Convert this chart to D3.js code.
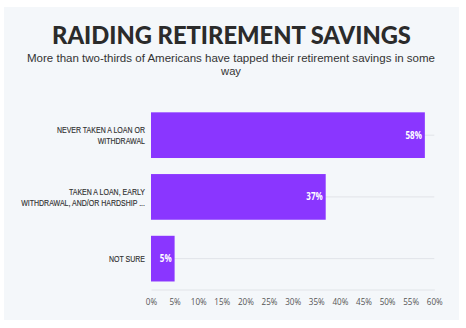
<!DOCTYPE html>
<html><head><meta charset="utf-8">
<script src="https://cdn.jsdelivr.net/npm/d3@7"></script>
<style>
html,body{margin:0;padding:0;background:#fff;}
svg{display:block;}
</style></head>
<body>
<script>
const categories = [
  ["NEVER TAKEN A LOAN OR", "WITHDRAWAL"],
  ["TAKEN A LOAN, EARLY", "WITHDRAWAL, AND/OR HARDSHIP ..."],
  ["NOT SURE"]
];
const values = [58, 37, 5];
const xTicks = [0,5,10,15,20,25,30,35,40,45,50,55,60];
const title = "RAIDING RETIREMENT SAVINGS";
const subtitle = ["More than two-thirds of Americans have tapped their retirement savings in some", "way"];

const W = 466, H = 328;
const svg = d3.select("body").append("svg").attr("width", W).attr("height", H);
svg.append("rect").attr("x",4).attr("y",7).attr("width",455).attr("height",313).attr("fill","#f4f7fa");

const sans = "'Open Sans','Noto Sans',sans-serif";
const tight = "'Liberation Sans',Arial,sans-serif";

function fit(sel, target){
  const w = sel.node().getComputedTextLength();
  const fs = parseFloat(sel.attr("font-size"));
  sel.attr("font-size", fs*target/w);
}
function condense(sel, k){
  sel.each(function(){
    const w = this.getComputedTextLength();
    d3.select(this).attr("textLength", w*k).attr("lengthAdjust","spacingAndGlyphs");
  });
}

const t = svg.append("text").attr("x",231.5).attr("y",44).attr("text-anchor","middle")
  .attr("font-family","Lato,'Open Sans',sans-serif").attr("font-weight",900).attr("font-size",24)
  .attr("fill","#2b2b2b").text(title);
fit(t, 359);

subtitle.forEach((s,i)=>{
  const st = svg.append("text").attr("x",231).attr("y",61.5+i*13).attr("text-anchor","middle")
    .attr("font-family",tight).attr("font-size",11.2)
    .attr("fill","#333").text(s);
  if(i===0) condense(st, 408/st.node().getComputedTextLength());
});

const x = d3.scaleLinear().domain([0,60]).range([151,434.3]);
const y = d3.scaleBand().domain(d3.range(categories.length)).range([104.3,289.5]).paddingInner(0.26).paddingOuter(0.13);

// gridlines at category centers
svg.append("g").selectAll("line").data(d3.range(categories.length)).join("line")
  .attr("x1",x(0)).attr("x2",x(60))
  .attr("y1",d=>y(d)+y.bandwidth()/2).attr("y2",d=>y(d)+y.bandwidth()/2)
  .attr("stroke","#e1e4e8").attr("stroke-width",1);

// x axis
const xa = svg.append("g").attr("transform","translate(0,289.5)")
  .call(d3.axisBottom(x).tickValues(xTicks).tickFormat(d=>d+"%").tickSize(0).tickPadding(9));
xa.select(".domain").attr("stroke","#e1e4e8");
xa.selectAll("text").attr("font-family",sans).attr("font-size",9.5).attr("fill","#555");
condense(xa.selectAll("text"), 0.85);

// bars
svg.append("g").selectAll("rect").data(values).join("rect")
  .attr("x",x(0)).attr("y",(d,i)=>y(i)).attr("width",d=>x(d)-x(0)).attr("height",y.bandwidth())
  .attr("fill","#8a36ff");

// value labels
const vl = svg.append("g").selectAll("text").data(values).join("text")
  .attr("x",d=>x(d)-3).attr("y",(d,i)=>y(i)+y.bandwidth()/2+3.5)
  .attr("text-anchor","end").attr("font-family",sans).attr("font-weight",700).attr("font-size",10)
  .attr("fill","#fff").text(d=>d+"%");
condense(vl, 0.8);

// category labels
categories.forEach((lines,i)=>{
  const cy = y(i)+y.bandwidth()/2;
  const n = lines.length;
  lines.forEach((ln,j)=>{
    const tl = svg.append("text").attr("x",145).attr("y",cy + (j-(n-1)/2)*11.5 + 3.4)
      .attr("text-anchor","end").attr("font-family",tight).attr("font-size",9.6)
      .attr("fill","#2e2e2e").attr("stroke","#2e2e2e").attr("stroke-width",0.15).text(ln);
    condense(tl, 0.73);
  });
});
</script>
</body></html>
